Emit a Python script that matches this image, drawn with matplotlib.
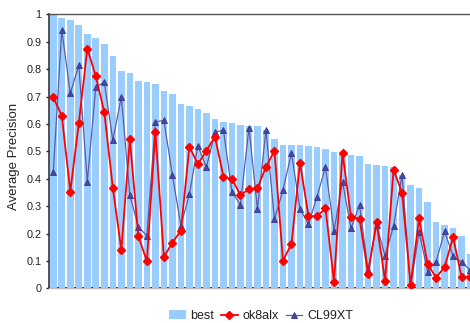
import matplotlib
matplotlib.use("Agg")
import matplotlib.pyplot as plt
import numpy as np

plt.rcParams['font.family'] = ['Liberation Sans', 'DejaVu Sans']

topics = list(range(1, 51))
best = [1.0, 0.987, 0.978, 0.960, 0.927, 0.914, 0.893, 0.847, 0.793, 0.785,
        0.758, 0.753, 0.746, 0.720, 0.709, 0.673, 0.665, 0.655, 0.641, 0.618,
        0.606, 0.603, 0.596, 0.594, 0.591, 0.577, 0.545, 0.522, 0.522, 0.522,
        0.519, 0.514, 0.507, 0.498, 0.491, 0.485, 0.482, 0.453, 0.451, 0.446,
        0.441, 0.413, 0.378, 0.366, 0.314, 0.243, 0.231, 0.221, 0.192, 0.126]
ok8alx = [0.697, 0.630, 0.353, 0.602, 0.875, 0.774, 0.642, 0.367, 0.140, 0.544,
          0.190, 0.099, 0.572, 0.114, 0.167, 0.210, 0.517, 0.453, 0.502, 0.554,
          0.408, 0.399, 0.341, 0.361, 0.365, 0.443, 0.502, 0.101, 0.162, 0.459,
          0.263, 0.263, 0.292, 0.023, 0.495, 0.259, 0.254, 0.054, 0.241, 0.027,
          0.433, 0.349, 0.012, 0.255, 0.088, 0.039, 0.078, 0.186, 0.041, 0.041]
cl99xt = [0.423, 0.943, 0.712, 0.814, 0.389, 0.735, 0.752, 0.540, 0.698, 0.341,
          0.224, 0.192, 0.607, 0.613, 0.414, 0.229, 0.343, 0.521, 0.442, 0.569,
          0.578, 0.353, 0.304, 0.586, 0.290, 0.577, 0.253, 0.358, 0.494, 0.290,
          0.234, 0.335, 0.442, 0.210, 0.389, 0.219, 0.304, 0.067, 0.231, 0.119,
          0.227, 0.414, 0.005, 0.207, 0.061, 0.097, 0.208, 0.117, 0.096, 0.066]
yticks = [0, 0.1, 0.2, 0.3, 0.4, 0.5, 0.6, 0.7, 0.8, 0.9, 1]
ytick_labels = ['0', '0.1', '0.2', '0.3', '0.4', '0.5', '0.6', '0.7', '0.8', '0.9', '1']

fig = plt.figure(figsize=(4.70, 3.23), dpi=100)
ax = fig.add_axes([0.1043, 0.1074, 0.905, 0.8483])

x = np.arange(len(topics))
h_best = ax.bar(x, best, width=0.78, color='#99CCFF', label='best', zorder=1)
h_ok, = ax.plot(x, ok8alx, color='#FF0000', lw=1.3, marker='D', ms=3.9,
                markeredgecolor='#FF0000', markerfacecolor='#FF0000', label='ok8alx', zorder=3)
h_cl, = ax.plot(x, cl99xt, color='#5C5CA3', lw=0.9, marker='^', ms=5,
                markerfacecolor='#4A4A9C', markeredgecolor='#333399', markeredgewidth=0.6,
                label='CL99XT', zorder=2)

ax.set_xlim(-0.5, len(topics) - 0.5)
ax.set_ylim(0, 1)
ax.set_yticks(yticks)
ax.set_yticklabels(ytick_labels, fontsize=7.8, color='#222222')
ax.tick_params(axis='y', length=2.5, width=1, pad=3, color='#222222')
ax.set_xticks([])
ax.set_xticks(np.arange(-0.5, len(topics), 1), minor=True)
ax.tick_params(axis='x', which='minor', length=1.5, width=1.2, direction='inout', color='black')

ax.spines['right'].set_visible(False)
ax.spines['left'].set_color('#333333')
ax.spines['left'].set_linewidth(1.2)
ax.spines['top'].set_color('#555555')
ax.spines['top'].set_linewidth(1.0)
ax.spines['bottom'].set_color('#BBBBBB')
ax.spines['bottom'].set_linewidth(1.0)

fig.text(14 / 470, 1 - 156.7 / 323, 'Average Precision', rotation=90,
         ha='center', va='center', fontsize=9.5, color='#222222')

leg = fig.legend([h_best, h_ok, h_cl], ['best', 'ok8alx', 'CL99XT'],
                 loc='center', bbox_to_anchor=(261 / 470, 1 - 316 / 323), ncol=3,
                 frameon=False, fontsize=9, handlelength=1.3, handletextpad=0.4,
                 columnspacing=0.55, borderaxespad=0)
for t in leg.get_texts():
    t.set_color('#222222')

fig.savefig('out.png', dpi=100)
